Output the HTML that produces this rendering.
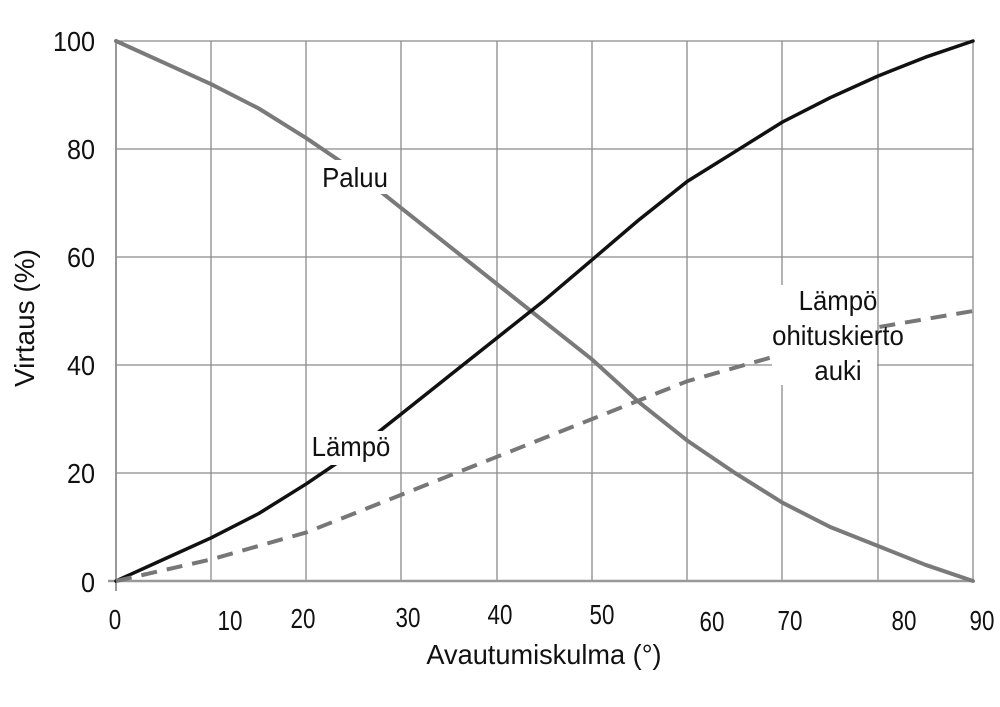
<!DOCTYPE html><html><head><style>body{margin:0;background:#fff}svg{display:block}text{font-family:"Liberation Sans Narrow","Liberation Sans",sans-serif;fill:#111}.n{font-family:"Liberation Sans",sans-serif}</style></head><body>
<svg width="1000" height="707" viewBox="0 0 1000 707" xmlns="http://www.w3.org/2000/svg">
<g stroke="#8a8a8a" stroke-width="1.3">
<line x1="211" y1="41" x2="211" y2="581"/><line x1="306" y1="41" x2="306" y2="581"/><line x1="401" y1="41" x2="401" y2="581"/><line x1="497" y1="41" x2="497" y2="581"/><line x1="592" y1="41" x2="592" y2="581"/><line x1="687" y1="41" x2="687" y2="581"/><line x1="782" y1="41" x2="782" y2="581"/><line x1="878" y1="41" x2="878" y2="581"/><line x1="973" y1="41" x2="973" y2="581"/>
<line x1="116" y1="41" x2="973" y2="41"/><line x1="116" y1="149" x2="973" y2="149"/><line x1="116" y1="257" x2="973" y2="257"/><line x1="116" y1="365" x2="973" y2="365"/><line x1="116" y1="473" x2="973" y2="473"/>
</g>
<line x1="116" y1="41" x2="116" y2="591" stroke="#999" stroke-width="2"/>
<line x1="108" y1="581" x2="973" y2="581" stroke="#999" stroke-width="2.5"/>
<g fill="none" stroke-linejoin="round" stroke-linecap="round">
<polyline points="116,41 163.6,62.6 211.2,84.2 258.8,108.5 306.4,138.2 354.1,170.6 401.7,208.4 449.3,246.2 496.9,284 544.5,321.8 592.2,359.6 639.7,402.8 687.3,440.6 735,473 782.5,502.7 830.2,527 877.8,545.9 925.4,564.8 973,581" stroke="#7a7a7a" stroke-width="4"/>
<polyline points="116,581 163.6,559.4 211.2,537.8 258.8,513.5 306.4,483.8 354.1,451.4 401.7,413.6 449.3,375.8 496.9,338 544.5,300.2 592.2,259.7 639.7,219.2 687.3,181.4 735,151.7 782.5,122 830.2,97.7 877.8,76.1 925.4,57.2 973,41" stroke="#111" stroke-width="3.5"/>
<polyline points="116,581 163.6,570.2 211.2,559.4 258.8,545.9 306.4,532.4 354.1,513.5 401.7,494.6 449.3,475.7 496.9,456.8 544.5,437.9 592.2,419 639.7,400.1 687.3,381.2 735,367.7 782.5,354.2 830.2,340.7 877.8,327.2 925.4,319.1 973,311" stroke="#777" stroke-width="4" stroke-dasharray="16,10" stroke-linecap="butt"/>
</g>
<rect x="318" y="160" width="74" height="34" fill="#fff"/>
<rect x="772" y="285" width="105" height="100" fill="#fff"/>
<rect x="310" y="431" width="82" height="34" fill="#fff"/>
<g font-size="28">
<text transform="translate(355,187) scale(0.92,1)" text-anchor="middle">Paluu</text>
<text transform="translate(351,456) scale(0.92,1)" text-anchor="middle">Lämpö</text>
<text transform="translate(838,310) scale(0.92,1)" text-anchor="middle">Lämpö</text>
<text transform="translate(838,345) scale(0.92,1)" text-anchor="middle">ohituskierto</text>
<text transform="translate(838,380) scale(0.92,1)" text-anchor="middle">auki</text>
<g class="n">
<text class="n" transform="translate(95,51) scale(0.9,1)" text-anchor="end">100</text>
<text class="n" transform="translate(95,159) scale(0.9,1)" text-anchor="end">80</text>
<text class="n" transform="translate(95,267) scale(0.9,1)" text-anchor="end">60</text>
<text class="n" transform="translate(95,375) scale(0.9,1)" text-anchor="end">40</text>
<text class="n" transform="translate(95,483) scale(0.9,1)" text-anchor="end">20</text>
<text class="n" transform="translate(95,592) scale(0.9,1)" text-anchor="end">0</text>
<text class="n" transform="translate(115,629) scale(0.8,1)" text-anchor="middle">0</text>
<text class="n" transform="translate(230,630) scale(0.8,1)" text-anchor="middle">10</text>
<text class="n" transform="translate(303,628) scale(0.8,1)" text-anchor="middle">20</text>
<text class="n" transform="translate(408,627) scale(0.8,1)" text-anchor="middle">30</text>
<text class="n" transform="translate(500,624) scale(0.8,1)" text-anchor="middle">40</text>
<text class="n" transform="translate(602,624) scale(0.8,1)" text-anchor="middle">50</text>
<text class="n" transform="translate(712,631) scale(0.8,1)" text-anchor="middle">60</text>
<text class="n" transform="translate(790,630) scale(0.8,1)" text-anchor="middle">70</text>
<text class="n" transform="translate(904,630) scale(0.8,1)" text-anchor="middle">80</text>
<text class="n" transform="translate(982,630) scale(0.8,1)" text-anchor="middle">90</text>
</g>
<text transform="translate(544,664) scale(0.97,1)" text-anchor="middle">Avautumiskulma (°)</text>
<text transform="translate(34,318) rotate(-90) scale(1,1)" text-anchor="middle">Virtaus (%)</text>
</g>
</svg></body></html>
